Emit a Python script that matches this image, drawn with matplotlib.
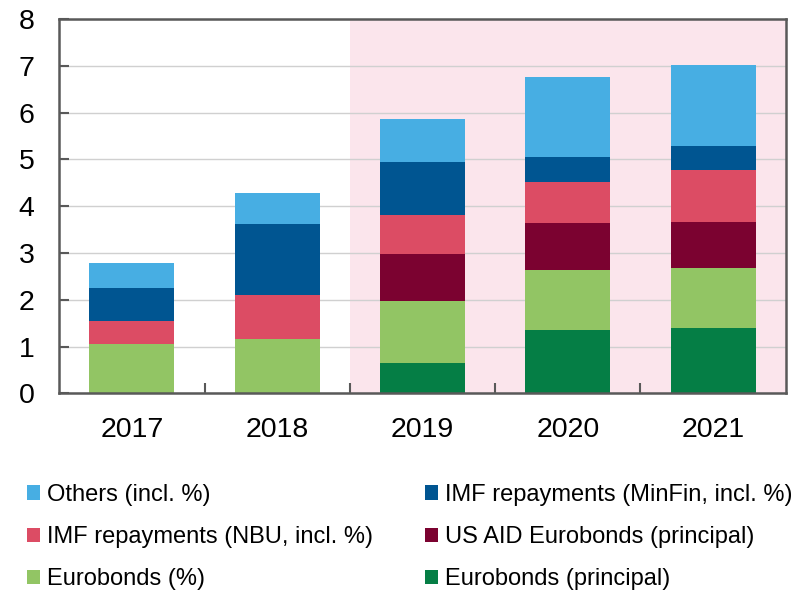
import matplotlib
matplotlib.use("Agg")
import matplotlib.pyplot as plt
from matplotlib.patches import Patch
import numpy as np

plt.rcParams['font.family'] = ['Liberation Sans', 'DejaVu Sans']

years = ["2017", "2018", "2019", "2020", "2021"]
eurobonds_principal = [0.0, 0.0, 0.65, 1.35, 1.40]
eurobonds_pct = [1.05, 1.15, 1.32, 1.28, 1.28]
usaid_principal = [0.0, 0.0, 1.00, 1.00, 0.99]
imf_nbu = [0.50, 0.96, 0.84, 0.89, 1.11]
imf_minfin = [0.71, 1.51, 1.13, 0.53, 0.51]
others = [0.52, 0.67, 0.92, 1.72, 1.72]

series = [
    ("Eurobonds (principal)", eurobonds_principal, "#057E45"),
    ("Eurobonds (%)", eurobonds_pct, "#92C564"),
    ("US AID Eurobonds (principal)", usaid_principal, "#7B0230"),
    ("IMF repayments (NBU, incl. %)", imf_nbu, "#DC4C64"),
    ("IMF repayments (MinFin, incl. %)", imf_minfin, "#005591"),
    ("Others (incl. %)", others, "#47AEE3"),
]

fig = plt.figure(figsize=(7.98, 5.90), dpi=100)
ax = fig.add_axes([0.0743, 0.3334, 0.9103, 0.6344])

x = np.arange(len(years))
ax.axvspan(1.5, len(years) - 0.5, color="#FBE5EC", zorder=0, lw=0)

bottom = np.zeros(len(years))
handles = {}
for name, vals, col in series:
    v = np.array(vals)
    ax.bar(x, v, width=0.585, bottom=bottom, color=col, zorder=3, lw=0)
    bottom += v
    handles[name] = Patch(facecolor=col, edgecolor='none')

ax.set_xlim(-0.5, len(years) - 0.5)
ax.set_ylim(0, 8)
ax.set_yticks(range(0, 9))
ax.yaxis.grid(True, color="#D0D0D0", lw=1.0, zorder=1)
ax.set_axisbelow(True)

ax.set_xticks(np.arange(0.5, len(years) - 0.5, 1.0))
ax.set_xticklabels([])
ax.set_xticks(x, minor=True)
ax.set_xticklabels(years, minor=True)
ax.tick_params(axis='x', which='major', direction='in', length=7, width=1.5, color="#595959")
ax.tick_params(axis='x', which='minor', length=0, pad=17, labelsize=20.5)
ax.tick_params(axis='y', direction='in', length=7, width=1.5, color="#595959", pad=18, labelsize=20.5)

for s in ax.spines.values():
    s.set_color("#595959")
    s.set_linewidth(1.8)
    s.set_zorder(5)

col1 = ["Others (incl. %)", "IMF repayments (NBU, incl. %)", "Eurobonds (%)"]
col2 = ["IMF repayments (MinFin, incl. %)", "US AID Eurobonds (principal)", "Eurobonds (principal)"]
kw = dict(loc="upper left", frameon=False, fontsize=17,
          handlelength=0.55, handleheight=0.55, handletextpad=0.3,
          labelspacing=0.86, borderaxespad=0, borderpad=0)
leg1 = fig.legend([handles[n] for n in col1], col1, bbox_to_anchor=(0.034, 0.180), **kw)
leg2 = fig.legend([handles[n] for n in col2], col2, bbox_to_anchor=(0.532, 0.180), **kw)

fig.savefig("out.png", dpi=100)
